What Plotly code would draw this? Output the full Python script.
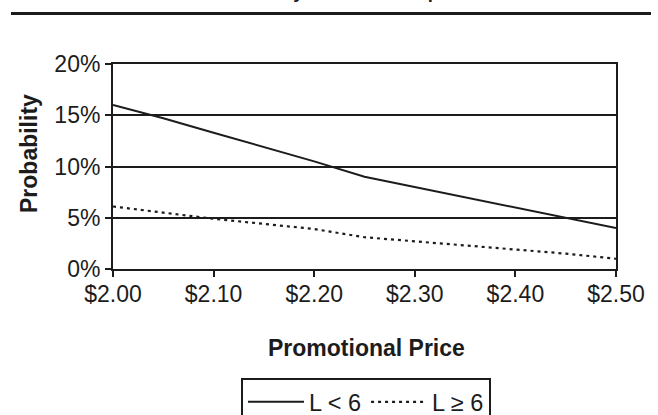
import plotly.graph_objects as go

# Promotional price points ($)
prices = [2.00, 2.05, 2.10, 2.15, 2.20, 2.25, 2.30, 2.35, 2.40, 2.45, 2.50]

# Probability (%) for each lead-time group
prob_l_lt6 = [16.0, 14.7, 13.3, 11.9, 10.5, 9.0, 8.0, 7.0, 6.0, 5.0, 4.0]
prob_l_ge6 = [6.1, 5.5, 4.9, 4.4, 3.9, 3.1, 2.7, 2.3, 1.9, 1.5, 1.0]

x_ticks = [2.00, 2.10, 2.20, 2.30, 2.40, 2.50]
x_tick_labels = ["$2.00", "$2.10", "$2.20", "$2.30", "$2.40", "$2.50"]
y_ticks = [0, 5, 10, 15, 20]
y_tick_labels = ["0%", "5%", "10%", "15%", "20%"]

INK = "#1c1c1c"
FONT = "Liberation Sans, Arial, Helvetica, sans-serif"

fig = go.Figure()
fig.add_trace(go.Scatter(
    x=prices, y=prob_l_lt6, mode="lines", name="L &lt; 6",
    line=dict(color=INK, width=2),
))
fig.add_trace(go.Scatter(
    x=prices, y=prob_l_ge6, mode="lines", name="L ≥ 6",
    line=dict(color=INK, width=2.2, dash="3px,4px"),
))

W, H = 658, 415
L, R, T, B = 113, 42, 64, 146
pw, ph = W - L - R, H - T - B


def px_to_paper_x(px):
    return (px - L) / pw


def px_to_paper_y(py):
    return (H - B - py) / ph


fig.update_layout(
    width=W, height=H,
    margin=dict(l=L, r=R, t=T, b=B, autoexpand=False),
    paper_bgcolor="white", plot_bgcolor="white",
    font=dict(family=FONT, size=23, color=INK),
    showlegend=True,
    legend=dict(
        orientation="h",
        x=366 / W, xanchor="center", xref="container",
        y=1 - 378 / H, yanchor="top", yref="container",
        bordercolor=INK, borderwidth=2,
        font=dict(size=23.5, color=INK),
        itemwidth=56,
        tracegroupgap=0,
    ),
    xaxis=dict(
        range=[2.00, 2.50],
        tickmode="array", tickvals=x_ticks, ticktext=x_tick_labels,
        showgrid=False, zeroline=False,
        showline=True, linecolor=INK, linewidth=2, mirror=True,
        ticks="outside", ticklen=6, tickwidth=2, tickcolor=INK,
        ticklabelstandoff=-3,
        tickfont=dict(size=23),
    ),
    yaxis=dict(
        range=[0, 20],
        tickmode="array", tickvals=y_ticks, ticktext=y_tick_labels,
        showgrid=True, gridcolor=INK, gridwidth=2, zeroline=False,
        showline=True, linecolor=INK, linewidth=2, mirror=True,
        ticks="outside", ticklen=6, tickwidth=2, tickcolor=INK,
        tickfont=dict(size=23),
    ),
    annotations=[
        dict(text="<b>Promotional Price</b>", xref="paper", yref="paper",
             x=px_to_paper_x(366), y=px_to_paper_y(348),
             xanchor="center", yanchor="middle", showarrow=False,
             font=dict(size=23, color=INK)),
        dict(text="<b>Probability</b>", xref="paper", yref="paper",
             x=px_to_paper_x(29), y=px_to_paper_y(154), textangle=-90,
             xanchor="center", yanchor="middle", showarrow=False,
             font=dict(size=23, color=INK)),
        dict(text="<b>Probability of Lead Time per Promotional Price</b>",
             xref="paper", yref="paper",
             x=px_to_paper_x(206), y=px_to_paper_y(4),
             xanchor="left", yanchor="bottom", showarrow=False,
             font=dict(size=18.5, color=INK)),
    ],
    shapes=[
        dict(type="line", xref="paper", yref="paper",
             x0=px_to_paper_x(11), x1=px_to_paper_x(651),
             y0=px_to_paper_y(13.5), y1=px_to_paper_y(13.5),
             line=dict(color=INK, width=3)),
    ],
)

fig.write_html("out.html")
